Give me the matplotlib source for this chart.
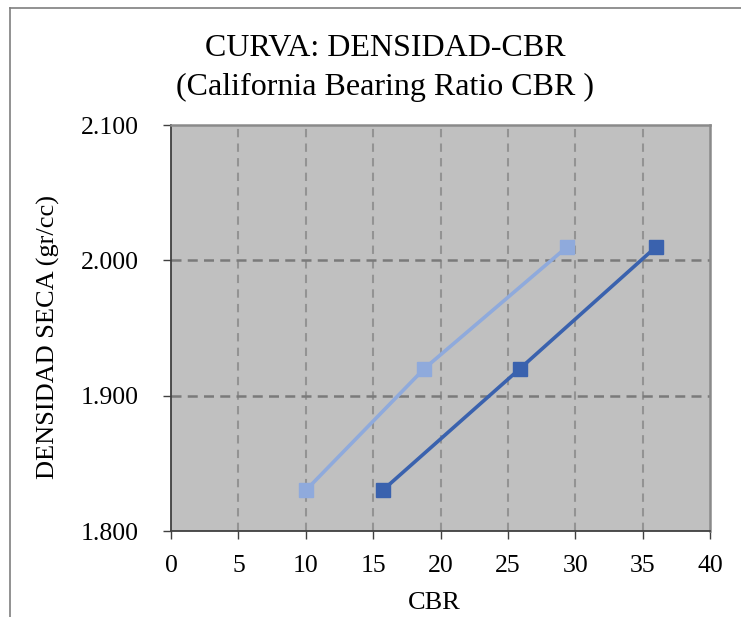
import matplotlib
matplotlib.use("Agg")
import matplotlib.pyplot as plt
from matplotlib.lines import Line2D

plt.rcParams['font.family'] = ['Liberation Serif', 'DejaVu Serif']

# data
cbr_light = [10.0, 18.8, 29.4]
dens_light = [1.83, 1.92, 2.01]
cbr_dark = [15.7, 25.9, 36.0]
dens_dark = [1.83, 1.92, 2.01]

x_ticks = [0, 5, 10, 15, 20, 25, 30, 35, 40]
y_ticks = [1.8, 1.9, 2.0, 2.1]
y_labels = ["1.800", "1.900", "2.000", "2.100"]

W, H = 741, 617
fig = plt.figure(figsize=(W / 100, H / 100), dpi=100)
ax = fig.add_axes([171 / W, 1 - 531 / H, (710 - 171) / W, (531 - 125) / H])
ax.set_facecolor("#C0C0C0")

# chart frame (left and top edge only visible)
fig.add_artist(Line2D([10 / W, 10 / W], [0, 1 - 8 / H], color="#7f7f7f", lw=1.2))
fig.add_artist(Line2D([10 / W, 1], [1 - 8 / H, 1 - 8 / H], color="#7f7f7f", lw=1.2))

ax.plot(cbr_light, dens_light, color="#8FAADC", lw=2.6, marker="s", ms=10, zorder=3)
ax.plot(cbr_dark, dens_dark, color="#3A62AE", lw=2.6, marker="s", ms=10, zorder=3)

ax.set_xlim(0, 40)
ax.set_ylim(1.8, 2.1)
ax.set_xticks(x_ticks)
ax.set_yticks(y_ticks)
ax.set_yticklabels(y_labels)

for xv in x_ticks[1:-1]:
    ax.axvline(xv, color="#939393", lw=1.5, ls=(0, (4, 3)), zorder=1)
for yv in y_ticks[1:-1]:
    ax.axhline(yv, color="#7a7a7a", lw=1.8, ls=(0, (4, 2.5)), zorder=1)

for s in ["left", "bottom"]:
    ax.spines[s].set_color("#404040")
    ax.spines[s].set_linewidth(1.3)
for s in ["top", "right"]:
    ax.spines[s].set_color("#8a8a8a")
    ax.spines[s].set_linewidth(1.8)

ax.tick_params(axis="both", direction="out", length=6, width=1.0, color="#404040",
               labelsize=18.5)
ax.tick_params(axis="y", pad=17)
ax.tick_params(axis="x", pad=11)

fig.text(385 / W, 1 - 49 / H, "CURVA: DENSIDAD-CBR", ha="center", va="center", fontsize=23)
fig.text(385 / W, 1 - 87 / H, "(California Bearing Ratio CBR )", ha="center", va="center",
         fontsize=23)
fig.text(48 / W, 1 - 337 / H, "DENSIDAD SECA (gr/cc)", ha="center", va="center",
         rotation=90, fontsize=19)
fig.text(434 / W, 1 - 603 / H, "CBR", ha="center", va="center", fontsize=19)

fig.savefig("out.png", dpi=100, facecolor="white")
